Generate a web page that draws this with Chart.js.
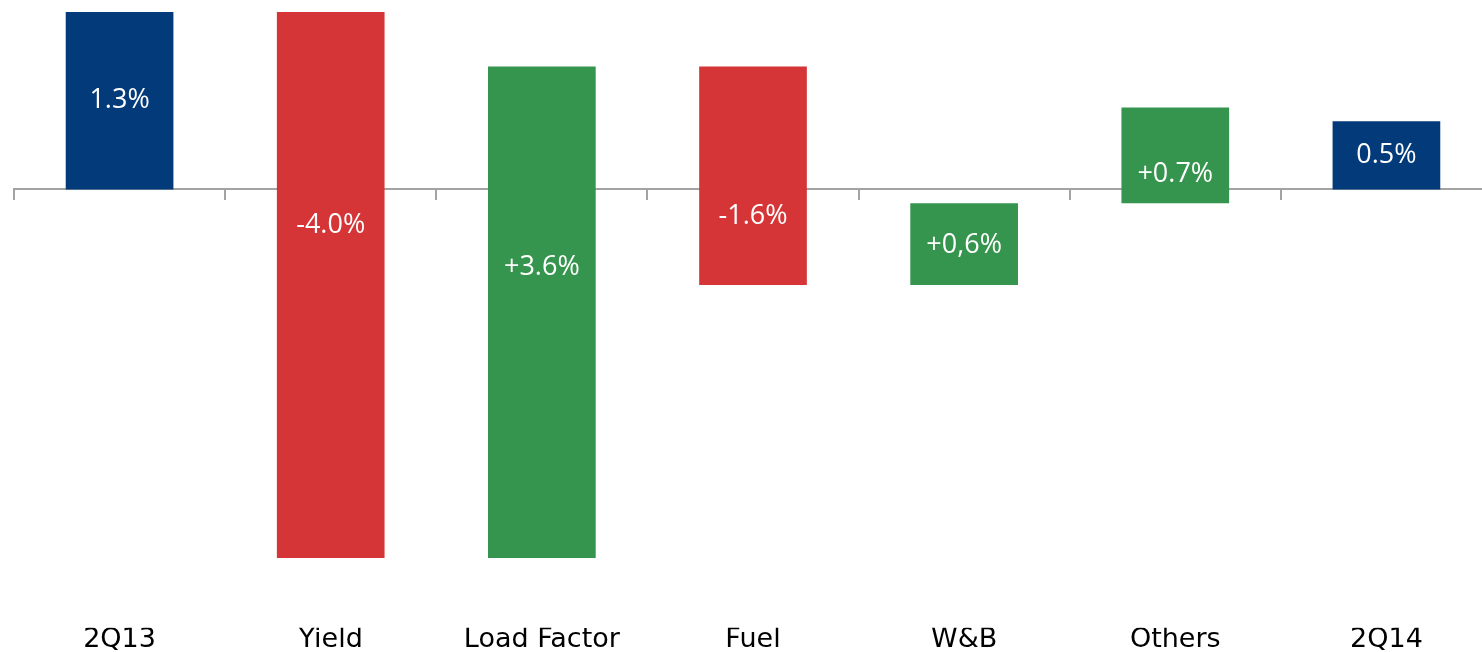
<!DOCTYPE html>
<html>
<head>
<meta charset="utf-8">
<title>Margin bridge 2Q13 – 2Q14</title>
<script src="https://cdn.jsdelivr.net/npm/chart.js@4.4.1/dist/chart.umd.min.js"></script>
<style>
  html, body { margin: 0; padding: 0; overflow: hidden; background: #ffffff; }
  #wrap { position: relative; width: 1492px; height: 652px; }
</style>
</head>
<body>
<div id="wrap"><canvas id="bridge"></canvas></div>
<script>
// Margin bridge: opening margin, drivers, closing margin (percentage points)
const categories = ['2Q13', 'Yield', 'Load Factor', 'Fuel', 'W&B', 'Others', '2Q14'];
const openingMargin = 1.3;
const driverChanges = [-4.0, 3.6, -1.6, 0.6, 0.7];
const closingMargin = 0.5;
const valueLabels = ['1.3%', '-4.0%', '+3.6%', '-1.6%', '+0,6%', '+0.7%', '0.5%'];

const COLORS = { total: '#033A7A', up: '#35944D', down: '#D53537', axis: '#A3A3A3' };

// Floating [start, end] ranges: totals sit on zero, drivers chain from the running level
const ranges = [[0, openingMargin]];
const barColors = [COLORS.total];
let level = openingMargin;
driverChanges.forEach(function (d) {
  ranges.push([level, level + d]);
  barColors.push(d >= 0 ? COLORS.up : COLORS.down);
  level += d;
});
ranges.push([0, closingMargin]);
barColors.push(COLORS.total);

// Writes the value text inside each bar, at a vertical anchor given in axis units
const barTextPlugin = {
  id: 'barText',
  afterDraw(chart, args, opts) {
    const ctx = chart.ctx;
    const yScale = chart.scales.y;
    const meta = chart.getDatasetMeta(0);
    ctx.save();
    ctx.font = opts.font;
    ctx.fillStyle = opts.color;
    ctx.textAlign = 'center';
    ctx.textBaseline = 'middle';
    meta.data.forEach(function (bar, i) {
      ctx.fillText(valueLabels[i], bar.x, yScale.getPixelForValue(opts.anchors[i]));
    });
    ctx.restore();
  }
};

new Chart(document.getElementById('bridge'), {
  type: 'bar',
  data: {
    labels: categories,
    datasets: [{
      data: ranges,
      backgroundColor: barColors,
      borderWidth: 0,
      borderSkipped: false,
      categoryPercentage: 1.0,
      barPercentage: 0.51,
      xAxisID: 'x'
    }]
  },
  options: {
    responsive: true,
    maintainAspectRatio: false,
    animation: false,
    events: [],
    layout: { padding: { left: 14, top: 12, right: 0, bottom: 0 } },
    plugins: {
      legend: { display: false },
      tooltip: { enabled: false },
      barText: {
        font: '27px "Open Sans", "Noto Sans", sans-serif',
        color: '#ffffff',
        anchors: [0.65, -0.26, -0.57, -0.20, -0.41, 0.11, 0.25]
      }
    },
    scales: {
      y: { display: false, min: -3.21, max: 1.3 },
      // zero line with category separators hanging below it
      x: {
        type: 'category',
        position: { y: 0 },
        offset: true,
        z: 1,
        grid: {
          display: true,
          offset: true,
          drawOnChartArea: false,
          drawTicks: true,
          tickLength: 10,
          color: COLORS.axis,
          lineWidth: 2
        },
        border: { display: true, color: COLORS.axis, width: 2 },
        ticks: { display: false }
      },
      // category names along the bottom edge
      xLabels: {
        type: 'category',
        axis: 'x',
        position: 'bottom',
        offset: true,
        labels: categories,
        grid: { display: false, drawTicks: false },
        border: { display: false },
        ticks: {
          padding: 0,
          color: '#000000',
          maxRotation: 0,
          autoSkip: false,
          font: { family: '"DejaVu Sans", sans-serif', size: 27, lineHeight: 0.9 }
        }
      }
    }
  },
  plugins: [barTextPlugin]
});
</script>
</body>
</html>
